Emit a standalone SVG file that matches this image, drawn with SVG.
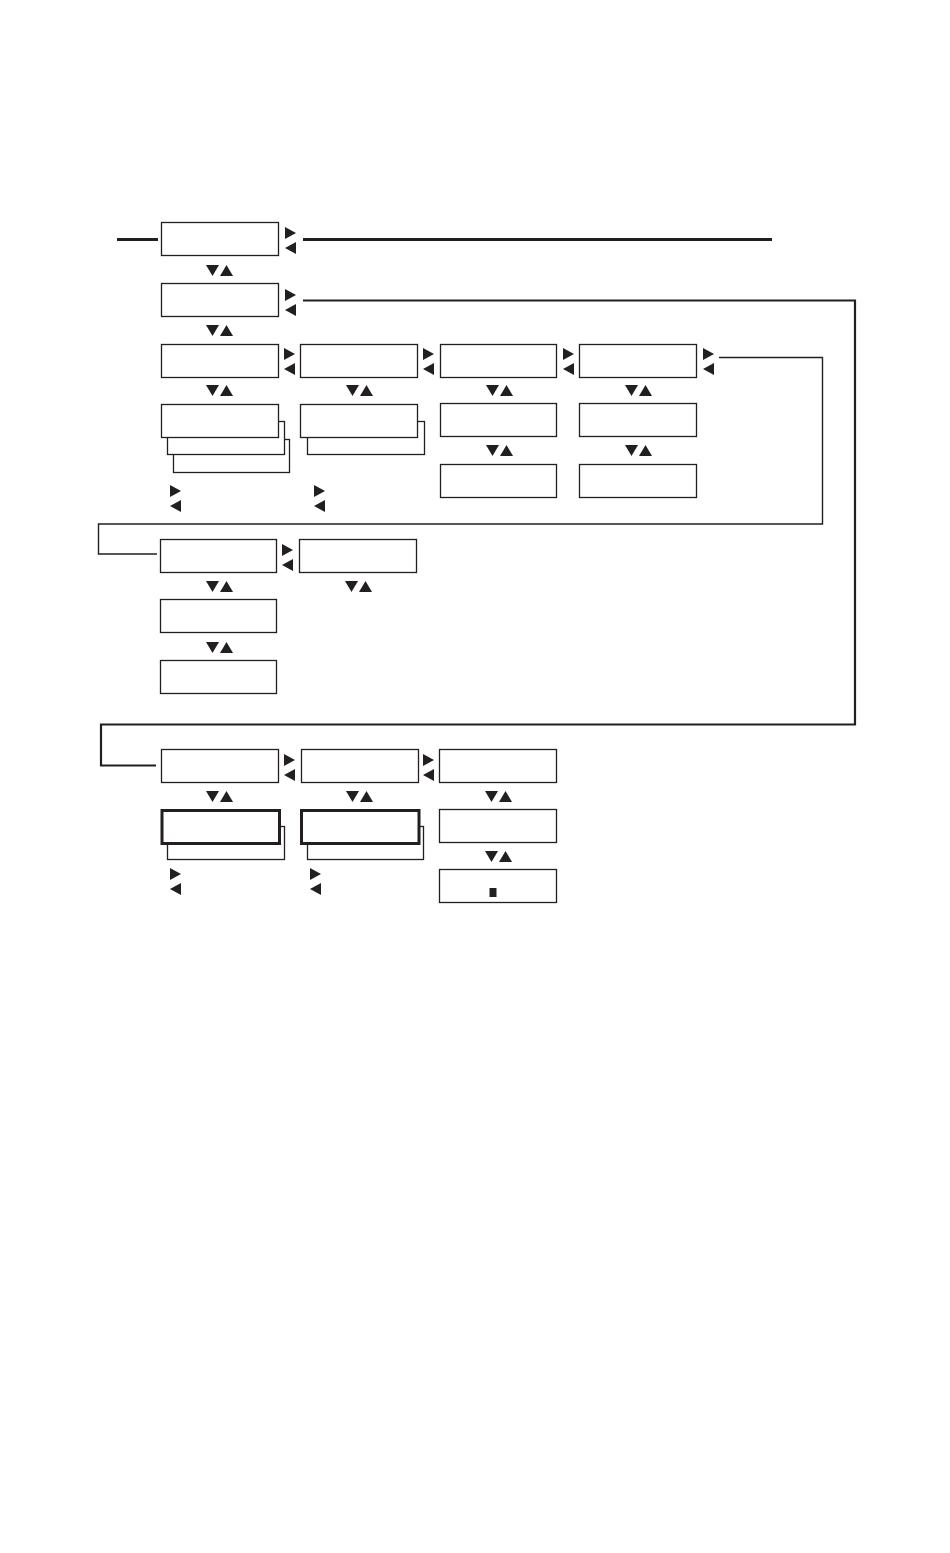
<svg xmlns="http://www.w3.org/2000/svg" xmlns:xlink="http://www.w3.org/1999/xlink" width="950" height="1553" viewBox="0 0 950 1553">
<style>
.box{fill:#fff;stroke:#231f20;stroke-width:1.3}
.bold{fill:#fff;stroke:#231f20;stroke-width:3}
.tri{fill:#231f20}
.thick{fill:none;stroke:#231f20;stroke-width:2.8}
.mid{fill:none;stroke:#231f20;stroke-width:2.2}
.thin{fill:none;stroke:#231f20;stroke-width:1.4}
</style>
<defs>
<symbol id="ud" overflow="visible"><polygon class="tri" points="0,0 13,0 6.5,11"/><polygon class="tri" points="14,11 27,11 20.5,0"/></symbol>
<symbol id="lr" overflow="visible"><polygon class="tri" points="0,0 11,6 0,12"/><polygon class="tri" points="11,15 0,21 11,27"/></symbol>
</defs>
<rect width="950" height="1553" fill="#fff"/>
<g id="connectors">
<path class="thick" d="M117,239.5 H158"/>
<path class="thick" d="M303,239.5 H772"/>
<path class="mid" d="M303,300.5 H855 V724.5 H101 V765.5 H156"/>
<path class="thin" d="M719,357.5 H822.5 V524 H98.5 V554 H157"/>
</g>
<g id="arrows">
<use href="#lr" x="285" y="227"/>
<use href="#lr" x="285" y="289"/>
<use href="#lr" x="284" y="348"/>
<use href="#lr" x="423" y="348"/>
<use href="#lr" x="563" y="348"/>
<use href="#lr" x="703" y="348"/>
<use href="#lr" x="170" y="485"/>
<use href="#lr" x="314" y="485"/>
<use href="#lr" x="282" y="544"/>
<use href="#lr" x="284" y="754"/>
<use href="#lr" x="423" y="754"/>
<use href="#lr" x="170" y="868"/>
<use href="#lr" x="310" y="868"/>
<use href="#ud" x="206" y="265"/>
<use href="#ud" x="206" y="325"/>
<use href="#ud" x="206" y="385"/>
<use href="#ud" x="346" y="385"/>
<use href="#ud" x="486" y="385"/>
<use href="#ud" x="625" y="385"/>
<use href="#ud" x="486" y="445"/>
<use href="#ud" x="625" y="445"/>
<use href="#ud" x="206" y="581"/>
<use href="#ud" x="345" y="581"/>
<use href="#ud" x="206" y="642"/>
<use href="#ud" x="206" y="791"/>
<use href="#ud" x="346" y="791"/>
<use href="#ud" x="485" y="791"/>
<use href="#ud" x="485" y="851"/>
</g>
<g id="n1"><rect class="box" x="161.5" y="222.5" width="117" height="33"/></g>
<g id="n2"><rect class="box" x="161.5" y="283.5" width="117" height="33"/></g>
<g id="n3"><rect class="box" x="161.5" y="344.5" width="117" height="33"/></g>
<g id="n4"><rect class="box" x="300.5" y="344.5" width="117" height="33"/></g>
<g id="n5"><rect class="box" x="440.5" y="344.5" width="116" height="33"/></g>
<g id="n6"><rect class="box" x="579.5" y="344.5" width="117" height="33"/></g>
<g id="n7">
<rect class="box" x="173.5" y="439.5" width="116" height="33"/>
<rect class="box" x="167.5" y="421.5" width="117" height="33"/>
<rect class="box" x="161.5" y="404.5" width="117" height="33"/>
</g>
<g id="n8">
<rect class="box" x="307.5" y="421.5" width="117" height="33"/>
<rect class="box" x="300.5" y="404.5" width="117" height="33"/>
</g>
<g id="n9"><rect class="box" x="440.5" y="403.5" width="116" height="33"/></g>
<g id="n10"><rect class="box" x="579.5" y="403.5" width="117" height="33"/></g>
<g id="n11"><rect class="box" x="440.5" y="464.5" width="116" height="33"/></g>
<g id="n12"><rect class="box" x="579.5" y="464.5" width="117" height="33"/></g>
<g id="n13"><rect class="box" x="160.5" y="539.5" width="116" height="33"/></g>
<g id="n14"><rect class="box" x="299.5" y="539.5" width="117" height="33"/></g>
<g id="n15"><rect class="box" x="160.5" y="599.5" width="116" height="33"/></g>
<g id="n16"><rect class="box" x="160.5" y="660.5" width="116" height="33"/></g>
<g id="n17"><rect class="box" x="161.5" y="749.5" width="117" height="33"/></g>
<g id="n18"><rect class="box" x="301.5" y="749.5" width="117" height="33"/></g>
<g id="n19"><rect class="box" x="439.5" y="749.5" width="117" height="33"/></g>
<g id="n20">
<rect class="box" x="167.5" y="826.5" width="117" height="33"/>
<rect class="bold" x="162" y="810.5" width="117.5" height="33"/>
</g>
<g id="n21">
<rect class="box" x="307.5" y="826.5" width="116" height="33"/>
<rect class="bold" x="301.5" y="810.5" width="117.5" height="33"/>
</g>
<g id="n22"><rect class="box" x="439.5" y="809.5" width="117" height="33"/></g>
<g id="n23"><rect class="box" x="439.5" y="869.5" width="117" height="33"/><rect class="tri" x="489.5" y="888" width="7" height="9"/></g>
</svg>
